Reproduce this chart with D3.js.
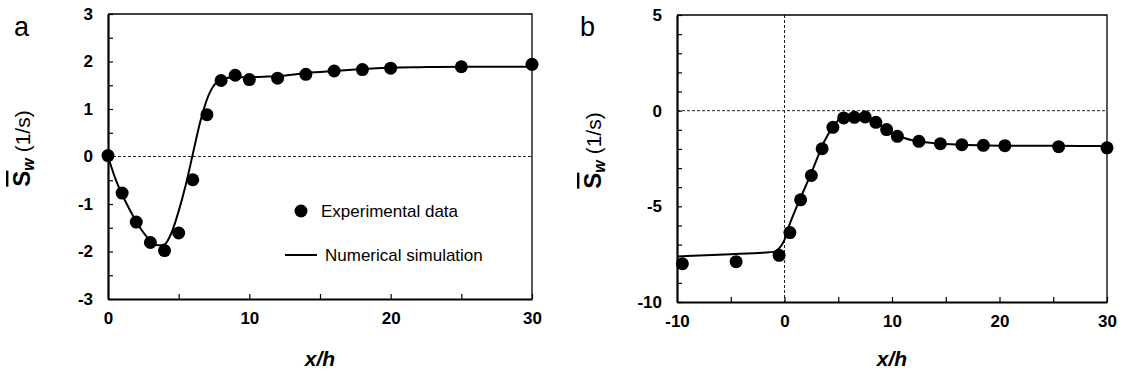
<!DOCTYPE html>
<html>
<head>
<meta charset="utf-8">
<script src="https://cdn.jsdelivr.net/npm/d3@7"></script>
<style>
  body { margin: 0; background: #fff; }
  text { font-family: Arial, "Liberation Sans", sans-serif; fill: #000; }
</style>
</head>
<body>
<svg id="chart" width="1121" height="374"></svg>
<script>
// ---- panel a: experimental points + simulation ----
const expAx = [0, 1, 2, 3, 4, 5, 6, 7, 8, 9, 10, 12, 14, 16, 18, 20, 25, 30];
const expAy = [0.02, -0.77, -1.38, -1.81, -1.98, -1.61, -0.49, 0.88, 1.6, 1.71, 1.62, 1.65, 1.73, 1.8, 1.83, 1.86, 1.89, 1.94];
const simAx = [0, 0.5, 1, 1.5, 2, 2.5, 3, 3.5, 4, 4.5, 5, 5.5, 6, 6.5, 7, 7.5, 8, 8.5, 9, 10, 11, 12, 13, 14, 15, 16, 17, 18, 19, 20, 22, 25, 30];
const simAy = [0, -0.45, -0.8, -1.1, -1.37, -1.6, -1.77, -1.87, -1.85, -1.6, -1.15, -0.6, 0.05, 0.7, 1.2, 1.5, 1.62, 1.66, 1.67, 1.67, 1.68, 1.69, 1.72, 1.76, 1.78, 1.8, 1.82, 1.84, 1.86, 1.87, 1.88, 1.89, 1.89];

// ---- panel b ----
const expBx = [-9.5, -4.5, -0.5, 0.5, 1.5, 2.5, 3.5, 4.5, 5.5, 6.5, 7.5, 8.5, 9.5, 10.5, 12.5, 14.5, 16.5, 18.5, 20.5, 25.5, 30];
const expBy = [-8.0, -7.89, -7.56, -6.37, -4.66, -3.39, -1.99, -0.87, -0.38, -0.35, -0.33, -0.61, -0.99, -1.34, -1.6, -1.73, -1.78, -1.81, -1.83, -1.88, -1.94];
const simBx = [-10, -5, -2, -1, -0.5, 0, 0.5, 1, 1.5, 2, 2.5, 3, 3.5, 4, 4.5, 5, 5.5, 6, 7, 7.5, 8, 8.5, 9, 9.5, 10, 11, 12, 13, 14, 16, 18, 20, 25, 30];
const simBy = [-7.62, -7.5, -7.42, -7.38, -7.2, -6.75, -5.9, -5.2, -4.55, -3.9, -3.25, -2.55, -1.85, -1.3, -0.85, -0.5, -0.3, -0.2, -0.2, -0.28, -0.42, -0.6, -0.8, -0.98, -1.15, -1.4, -1.56, -1.65, -1.7, -1.77, -1.81, -1.83, -1.84, -1.85];

// ticks
const xTicksA = [0, 5, 10, 15, 20, 25, 30];
const xLabelsA = [0, 10, 20, 30];
const yTicksA = [-3, -2.5, -2, -1.5, -1, -0.5, 0, 0.5, 1, 1.5, 2, 2.5, 3];
const yLabelsA = [-3, -2, -1, 0, 1, 2, 3];
const xTicksB = [-10, -5, 0, 5, 10, 15, 20, 25, 30];
const xLabelsB = [-10, 0, 10, 20, 30];
const yTicksB = [-10, -9, -8, -7, -6, -5, -4, -3, -2, -1, 0, 1, 2, 3, 4, 5];
const yLabelsB = [-10, -5, 0, 5];

const legendLabels = ["Experimental data", "Numerical simulation"];

const svg = d3.select("#chart");

const panels = [
  { letter: "a", letterX: 14, left: 108, right: 532, top: 14, bottom: 299,
    xDomain: [0, 30], yDomain: [-3, 3], xs: expAx, ys: expAy, sx: simAx, sy: simAy,
    xTicks: xTicksA, xLabels: xLabelsA, yTicks: yTicksA, yLabels: yLabelsA,
    vline: false, legend: true, yLabelX: 30 },
  { letter: "b", letterX: 580, left: 677, right: 1107, top: 15, bottom: 302,
    xDomain: [-10, 30], yDomain: [-10, 5], xs: expBx, ys: expBy, sx: simBx, sy: simBy,
    xTicks: xTicksB, xLabels: xLabelsB, yTicks: yTicksB, yLabels: yLabelsB,
    vline: true, legend: false, yLabelX: 601 }
];

panels.forEach(p => {
  const g = svg.append("g");
  const x = d3.scaleLinear().domain(p.xDomain).range([p.left, p.right]);
  const y = d3.scaleLinear().domain(p.yDomain).range([p.bottom, p.top]);

  // dashed zero lines
  g.append("line")
    .attr("x1", p.left).attr("x2", p.right)
    .attr("y1", y(0)).attr("y2", y(0))
    .attr("stroke", "#222").attr("stroke-width", 1)
    .attr("stroke-dasharray", "3,2");
  if (p.vline) {
    g.append("line")
      .attr("x1", x(0)).attr("x2", x(0))
      .attr("y1", p.top).attr("y2", p.bottom)
      .attr("stroke", "#222").attr("stroke-width", 1)
      .attr("stroke-dasharray", "3,2");
  }

  // thin top/right frame
  g.append("path")
    .attr("d", `M${p.left},${p.top}H${p.right}V${p.bottom}`)
    .attr("fill", "none").attr("stroke", "#000").attr("stroke-width", 1.3);

  // axes
  const yAxis = g.append("g")
    .attr("transform", `translate(${p.left},0)`)
    .call(d3.axisLeft(y).tickValues(p.yTicks).tickSizeInner(-5).tickSizeOuter(0).tickPadding(15)
      .tickFormat(d => p.yLabels.includes(d) ? String(d) : ""));
  const xAxis = g.append("g")
    .attr("transform", `translate(0,${p.bottom})`)
    .call(d3.axisBottom(x).tickValues(p.xTicks).tickSizeInner(-5).tickSizeOuter(0).tickPadding(13)
      .tickFormat(d => p.xLabels.includes(d) ? String(d) : ""));
  [xAxis, yAxis].forEach(ax => {
    ax.select(".domain").attr("stroke-width", 2.2).attr("stroke", "#000");
    ax.selectAll(".tick line").attr("stroke-width", 1.2).attr("stroke", "#000");
    ax.selectAll(".tick text")
      .style("font-size", "17px").style("font-weight", "bold")
      .style("font-family", "Arial, 'Liberation Sans', sans-serif").style("fill", "#000");
  });

  // simulation line
  const simData = p.sx.map((v, i) => [v, p.sy[i]]);
  g.append("path")
    .datum(simData)
    .attr("fill", "none").attr("stroke", "#000").attr("stroke-width", 2)
    .attr("d", d3.line().x(d => x(d[0])).y(d => y(d[1])).curve(d3.curveMonotoneX));

  // experimental points
  g.selectAll(".pt")
    .data(p.xs.map((v, i) => [v, p.ys[i]]))
    .enter().append("circle")
    .attr("class", "pt")
    .attr("cx", d => x(d[0])).attr("cy", d => y(d[1]))
    .attr("r", 6.5).attr("fill", "#000");

  // panel letter
  g.append("text")
    .attr("x", p.letterX).attr("y", 36)
    .style("font-size", "27px")
    .text(p.letter);

  // x axis title
  g.append("text")
    .attr("x", (p.left + p.right) / 2).attr("y", 366)
    .attr("text-anchor", "middle")
    .style("font-size", "21px").style("font-weight", "bold").style("font-style", "italic")
    .text("x/h");

  // y axis title
  const yt = g.append("text")
    .attr("transform", `translate(${p.yLabelX},${(p.top + p.bottom) / 2 - 8}) rotate(-90)`)
    .attr("text-anchor", "middle")
    .style("font-size", "21px");
  yt.append("tspan").style("font-weight", "bold").style("font-size", "24px")
    .style("text-decoration", "overline").text("S");
  yt.append("tspan").style("font-weight", "bold").style("font-style", "italic")
    .style("font-size", "16px").attr("dy", 4).text("w");
  yt.append("tspan").attr("dy", -4).text(" (1/s)");

  // legend
  if (p.legend) {
    const lg = g.append("g");
    lg.append("circle").attr("cx", 301).attr("cy", 211).attr("r", 6.5).attr("fill", "#000");
    lg.append("text").attr("x", 321).attr("y", 217).style("font-size", "17px").text(legendLabels[0]);
    lg.append("line").attr("x1", 285).attr("x2", 317).attr("y1", 255).attr("y2", 255)
      .attr("stroke", "#000").attr("stroke-width", 2);
    lg.append("text").attr("x", 325).attr("y", 261).style("font-size", "17px").text(legendLabels[1]);
  }
});
</script>
</body>
</html>
